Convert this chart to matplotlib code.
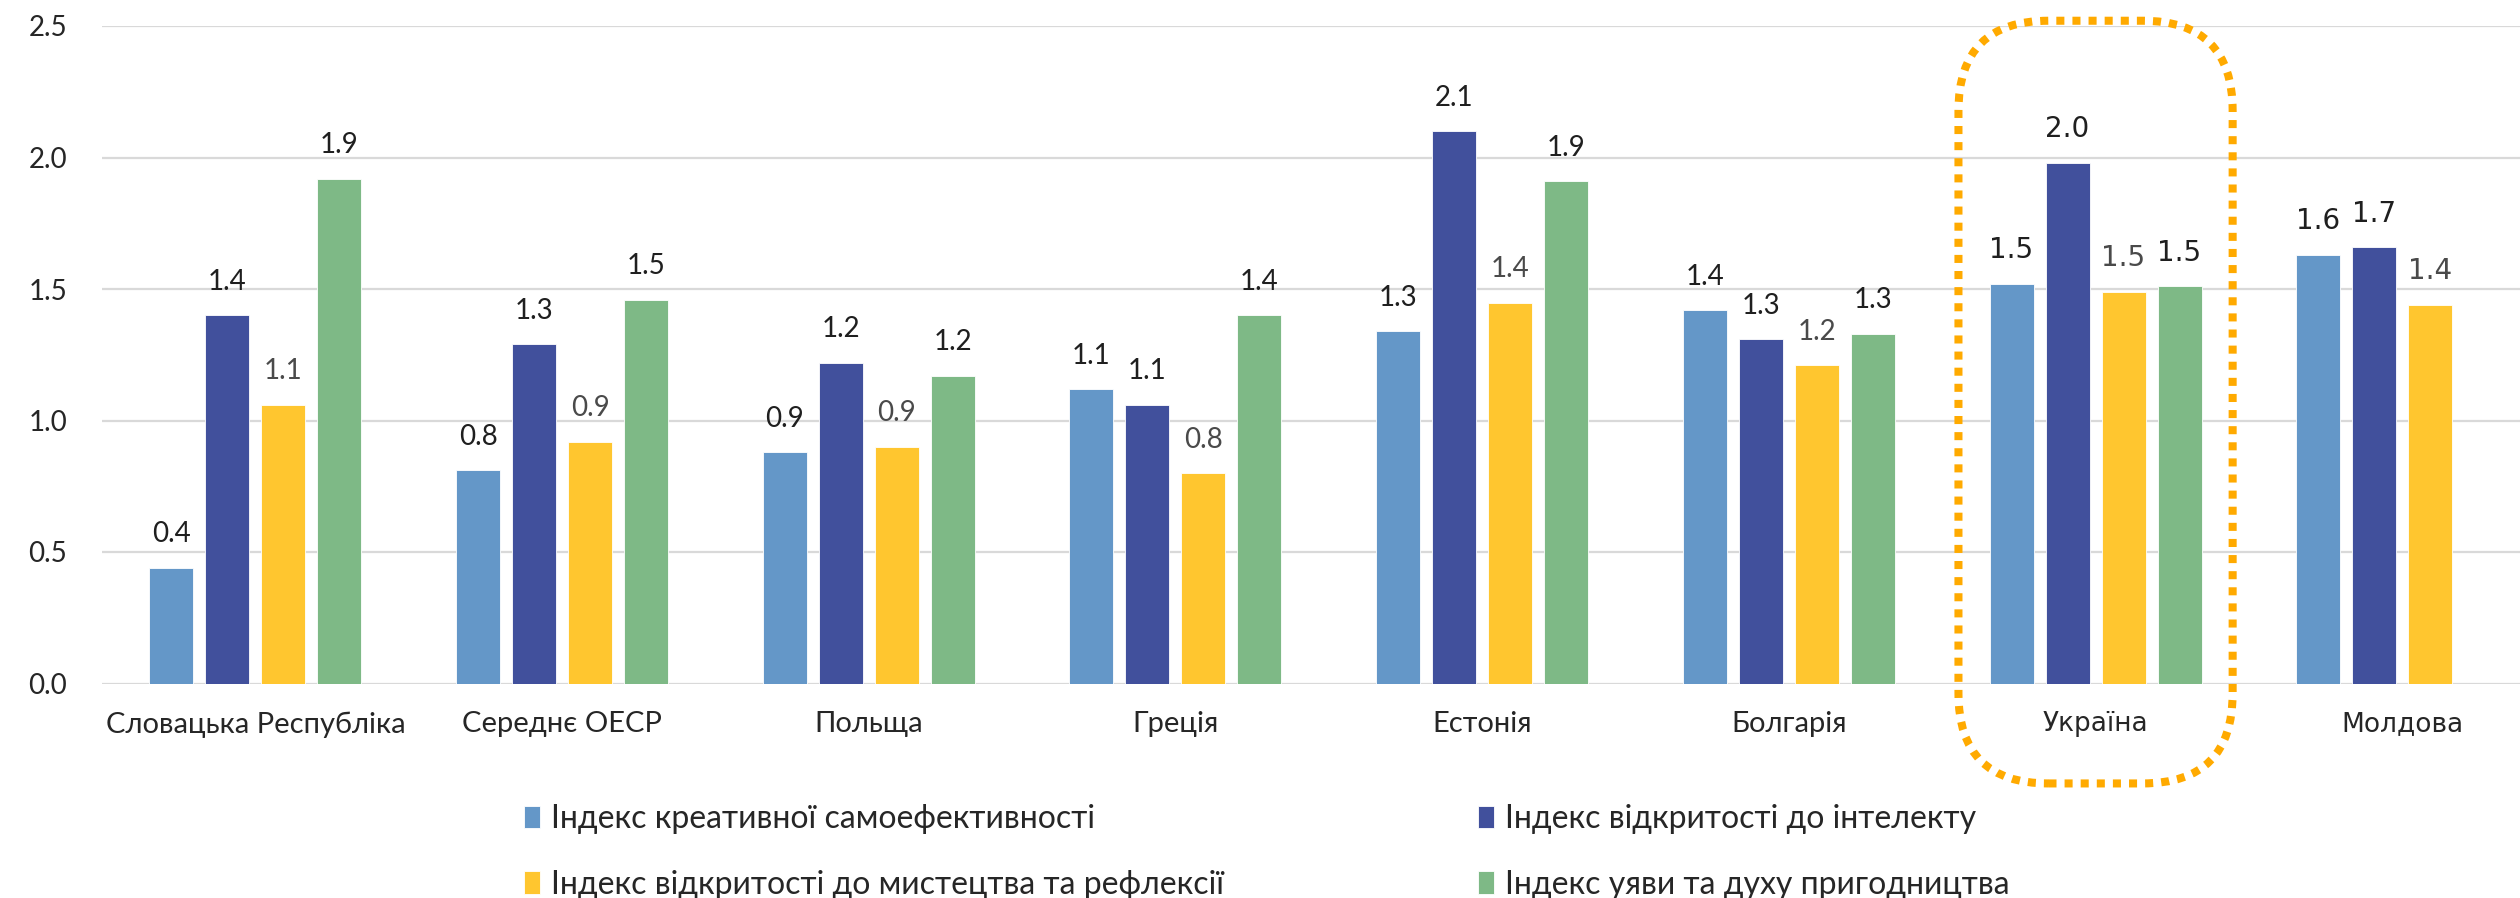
import matplotlib

matplotlib.use("Agg")
import matplotlib.pyplot as plt  # noqa: E402
import numpy as np  # noqa: E402
from matplotlib.patches import FancyBboxPatch  # noqa: E402
from matplotlib.transforms import IdentityTransform  # noqa: E402

plt.rcParams["font.family"] = ["Lato", "Noto Sans", "DejaVu Sans"]

# ---------------- data ----------------
countries = ["Словацька Республіка", "Середнє ОЕСР", "Польща", "Греція",
             "Естонія", "Болгарія", "Україна", "Молдова"]
series_names = ["Індекс креативної самоефективності",
                "Індекс відкритості до інтелекту",
                "Індекс відкритості до мистецтва та рефлексії",
                "Індекс уяви та духу пригодництва"]
creative = [0.44, 0.81, 0.88, 1.12, 1.34, 1.42, 1.52, 1.63]
intellect = [1.40, 1.29, 1.22, 1.06, 2.10, 1.31, 1.98, 1.66]
art = [1.06, 0.92, 0.90, 0.80, 1.448, 1.21, 1.49, 1.44]
imagination = [1.92, 1.46, 1.17, 1.40, 1.91, 1.33, 1.51, np.nan]
yticks = [0.0, 0.5, 1.0, 1.5, 2.0, 2.5]

colors = ["#6497C8", "#41509C", "#FFC62F", "#7EB986"]
label_colors = ["#1f1f1f", "#1f1f1f", "#4a4a4a", "#1f1f1f"]
highlight = "Україна"
alt_font = ["Україна", "Молдова"]  # these two use a wider face in the original

# ---------------- figure ----------------
W, H = 2520, 898
fig = plt.figure(figsize=(W / 100, H / 100), dpi=100)
ax = fig.add_axes([102 / W, (H - 683.5) / H, 2453.6 / W, 657.5 / H])

x = np.arange(len(countries))
bw = 0.1435
pitch = 0.1826
bars = []
for k, (vals, c) in enumerate(zip([creative, intellect, art, imagination], colors)):
    off = (k - 1.5) * pitch
    b = ax.bar(x + off, vals, width=bw, color=c, edgecolor="white", linewidth=0.6,
               zorder=3, label=series_names[k])
    bars.append(b)
    for i, v in enumerate(vals):
        if np.isnan(v):
            continue
        fam = ["DejaVu Sans"] if countries[i] in alt_font else None
        ax.annotate(f"{v:.1f}", (x[i] + off, v), xytext=(0, 24), textcoords="offset points",
                    ha="center", va="center", fontsize=20, color=label_colors[k],
                    family=fam, zorder=4)

ax.set_xlim(-0.5, len(countries) - 0.5)
ax.set_ylim(0, 2.5)
ax.set_yticks(yticks)
ax.set_yticklabels([f"{t:.1f}" for t in yticks], fontsize=20, color="#262626")
ax.set_xticks(x)
ax.set_xticklabels(countries, fontsize=21, color="#262626")
for lbl in ax.get_xticklabels():
    if lbl.get_text() in alt_font:
        lbl.set_family("DejaVu Sans")
        lbl.set_fontsize(19)
ax.tick_params(axis="both", length=0)
ax.tick_params(axis="y", pad=25)
ax.tick_params(axis="x", pad=20)
ax.grid(axis="y", color="#D9D9D9", linewidth=1.6, zorder=0)
ax.set_axisbelow(True)
for s in ax.spines.values():
    s.set_visible(False)

# ---------------- highlight box around Ukraine ----------------
fig.canvas.draw()
j = countries.index(highlight)
(x0, y0) = ax.transData.transform((j - 0.447, -0.38))
(x1, y1) = ax.transData.transform((j + 0.447, 2.52))
box = FancyBboxPatch((x0, y0), x1 - x0, y1 - y0,
                     boxstyle="round,pad=0,rounding_size=90",
                     transform=IdentityTransform(), fill=False,
                     edgecolor="#FFAA00", linewidth=5.8,
                     linestyle=(0, (1, 1)), capstyle="butt", clip_on=False, zorder=5)
fig.add_artist(box)

# ---------------- legend (two columns as in the original) ----------------
handles = [b.patches[0] for b in bars]
common = dict(loc="upper left", frameon=False, fontsize=23, borderpad=0,
              borderaxespad=0, handlelength=0.5, handleheight=0.7,
              handletextpad=0.34, labelspacing=1.12, labelcolor="#262626")
fig.legend([handles[0], handles[2]], [series_names[0], series_names[2]],
           bbox_to_anchor=(524 / W, 1 - 804 / H), **common)
fig.legend([handles[1], handles[3]], [series_names[1], series_names[3]],
           bbox_to_anchor=(1478 / W, 1 - 804 / H), **common)

fig.savefig("out.png", dpi=100)
